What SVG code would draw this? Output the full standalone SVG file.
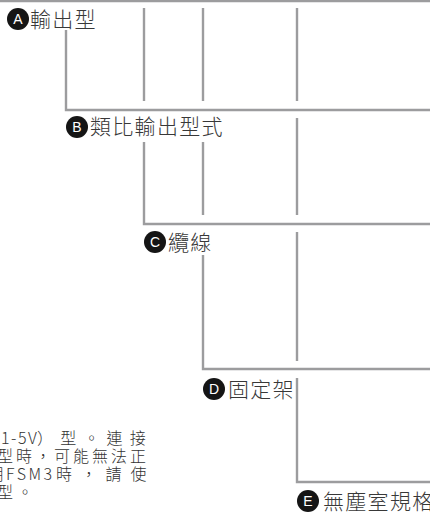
<svg xmlns="http://www.w3.org/2000/svg" width="430" height="515" viewBox="0 0 430 515">
<style>
.ln{fill:none;stroke:#9c9c9e;stroke-width:2.4}
.bd{fill:#151515}
.bl{fill:#fff;font-family:"Liberation Sans",Arial,sans-serif;font-size:14px;text-anchor:middle}
.lb{fill:#383838;font-family:"Noto Sans CJK TC","Noto Sans CJK JP",sans-serif;font-size:21px;font-weight:300;letter-spacing:1.3px}
.nt{fill:#333;font-family:"Noto Sans CJK TC","Noto Sans CJK JP",sans-serif;font-size:16px;font-weight:300}
</style>
<rect width="430" height="515" fill="#fff"/>
<g id="connectors">
<line class="ln" x1="0" y1="1" x2="430" y2="1"/>
<polyline class="ln" points="66,30 66,110 430,110"/>
<line class="ln" x1="144" y1="8" x2="144" y2="101"/>
<line class="ln" x1="203" y1="8" x2="203" y2="101"/>
<line class="ln" x1="297" y1="8" x2="297" y2="101"/>
<polyline class="ln" points="144,142 144,224 430,224"/>
<line class="ln" x1="203" y1="142" x2="203" y2="215"/>
<line class="ln" x1="297" y1="118" x2="297" y2="215"/>
<polyline class="ln" points="203,255 203,369 430,369"/>
<line class="ln" x1="297" y1="232" x2="297" y2="361"/>
<polyline class="ln" points="297,378 297,482 430,482"/>
</g>
<g id="nodeA">
<circle class="bd" cx="18" cy="19" r="11"/>
<text class="bl" x="18" y="24">A</text>
<text class="lb" x="30" y="27">輸出型</text>
</g>
<g id="nodeB">
<circle class="bd" cx="77" cy="127" r="11"/>
<text class="bl" x="77" y="132">B</text>
<text class="lb" x="90" y="134">類比輸出型式</text>
</g>
<g id="nodeC">
<circle class="bd" cx="155" cy="242" r="11"/>
<text class="bl" x="155" y="247">C</text>
<text class="lb" x="168" y="250">纜線</text>
</g>
<g id="nodeD">
<circle class="bd" cx="214" cy="389" r="11"/>
<text class="bl" x="214" y="394">D</text>
<text class="lb" x="228" y="397">固定架</text>
</g>
<g id="nodeE">
<circle class="bd" cx="308" cy="501" r="11"/>
<text class="bl" x="308" y="506">E</text>
<text class="lb" x="323" y="509">無塵室規格</text>
</g>
<g id="note">
<text class="nt" y="444"><tspan x="1" letter-spacing="1.5">1-5V</tspan><tspan x="37" letter-spacing="7.2">）型。連接</tspan></text>
<text class="nt" x="-3" y="462" letter-spacing="3">型時，可能無法正</text>
<text class="nt" y="480"><tspan x="-12">用</tspan><tspan x="6" letter-spacing="2.5">FSM3</tspan><tspan x="56" letter-spacing="8.8">時，請使</tspan></text>
<text class="nt" x="-3" y="498" letter-spacing="4">型。</text>
</g>
</svg>
